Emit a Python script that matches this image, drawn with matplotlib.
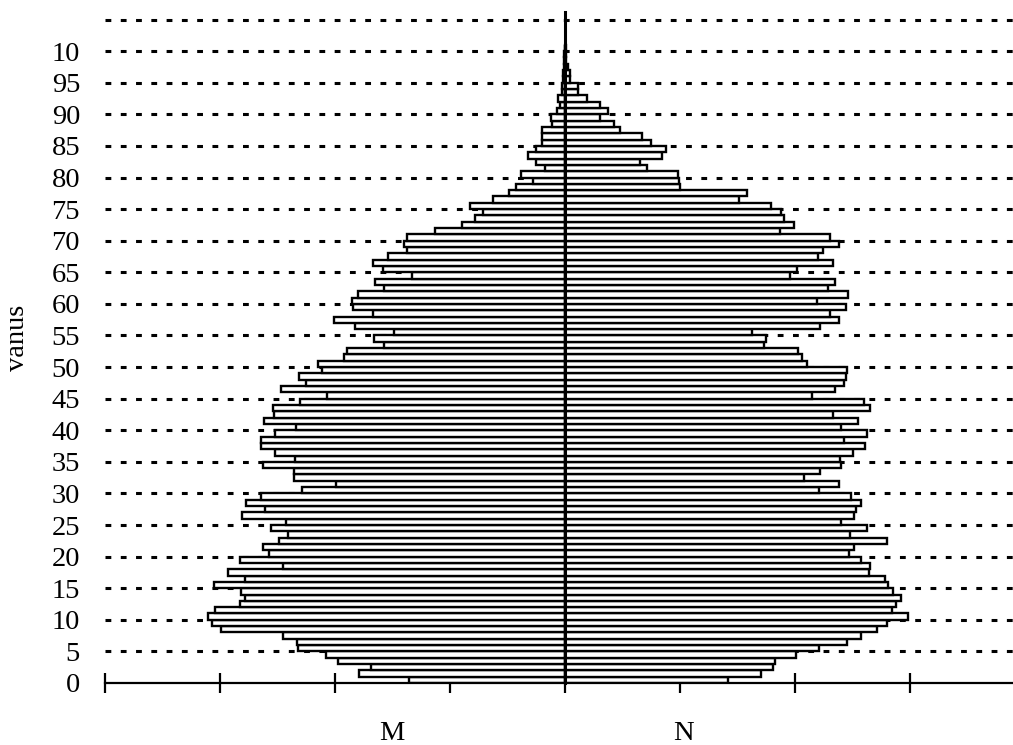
import matplotlib
matplotlib.use('Agg')
import numpy as np
import matplotlib.pyplot as plt

plt.rcParams['font.family'] = ['Liberation Serif', 'DejaVu Serif']

# age groups 0..100
ages = np.arange(0, 101)

# men (M), left side
male = [136, 179, 169, 197, 208, 232, 233, 245, 299, 307,
        310, 304, 283, 278, 282, 305, 278, 293, 245, 283,
        257, 263, 249, 241, 256, 243, 281, 261, 277, 264,
        229, 199, 236, 236, 263, 235, 252, 264, 264, 252,
        234, 262, 253, 254, 230, 207, 247, 225, 231, 211,
        215, 192, 190, 157, 166, 149, 183, 201, 167, 184,
        185, 180, 157, 165, 133, 158, 167, 154, 137, 140,
        137, 113, 90, 78, 71, 83, 63, 49, 43, 28,
        38, 17, 25, 32, 25, 20, 20, 20, 11, 12,
        7, 4, 6, 3, 3, 2, 2, 1, 0.5, 0.5,
        0.3]

# women (N), right side
female = [142, 170, 181, 183, 201, 221, 245, 257, 271, 280,
          298, 284, 288, 292, 285, 281, 278, 264, 265, 257,
          247, 251, 280, 248, 263, 240, 251, 253, 257, 249,
          221, 238, 208, 222, 240, 239, 250, 261, 243, 263,
          240, 255, 233, 265, 260, 215, 235, 243, 244, 245,
          210, 206, 203, 173, 175, 163, 222, 238, 230, 244,
          219, 246, 229, 235, 196, 202, 233, 220, 224, 238,
          230, 187, 199, 190, 188, 179, 151, 158, 100, 99,
          98, 71, 65, 84, 88, 75, 67, 48, 43, 30,
          37, 30, 19, 11, 11, 4, 4, 3, 1, 1,
          0.5]

ytick_pos = list(range(0, 101, 5))
ytick_lab = [str(v) for v in range(0, 100, 5)] + ['10']
grid_pos = list(range(5, 106, 5))
xtick_pos = list(range(-400, 401, 100))

W, H = 1013, 745
fig = plt.figure(figsize=(W / 100, H / 100), dpi=100)
ax = fig.add_axes([105 / W, 62 / H, 920 / W, 671 / H])

ax.set_xlim(-400, 400)
ax.set_ylim(0, 106.2)

# dotted guide lines behind the bars
ax.hlines(grid_pos, -400, 400, colors='black', linewidth=2.2,
          linestyles=(0, (1.9, 3.1)), zorder=1)

ax.barh(ages, -np.array(male), height=1, align='edge', color='white',
        edgecolor='black', linewidth=1.7, zorder=2)
ax.barh(ages, female, height=1, align='edge', color='white',
        edgecolor='black', linewidth=1.7, zorder=2)

ax.plot([0, 0], [0, 106.2], color='black', linewidth=2.2, zorder=3,
        clip_on=False)

for s in ['left', 'right', 'top']:
    ax.spines[s].set_visible(False)
ax.spines['bottom'].set_linewidth(1.6)

ax.set_xticks(xtick_pos)
ax.set_xticklabels([])
ax.tick_params(axis='x', direction='inout', length=14, width=1.6)

ax.set_yticks(ytick_pos)
ax.set_yticklabels(ytick_lab, fontsize=20.5)
ax.tick_params(axis='y', length=0, pad=18)

fig.text(392 / W, 1 - 733 / H, 'M', fontsize=20.5, ha='center', va='center')
fig.text(683 / W, 1 - 733 / H, 'N', fontsize=20.5, ha='center', va='center')
fig.text(17 / W, 1 - 338 / H, 'vanus', fontsize=20.5, ha='center',
         va='center', rotation=90)

plt.savefig('out.png', dpi=100)
